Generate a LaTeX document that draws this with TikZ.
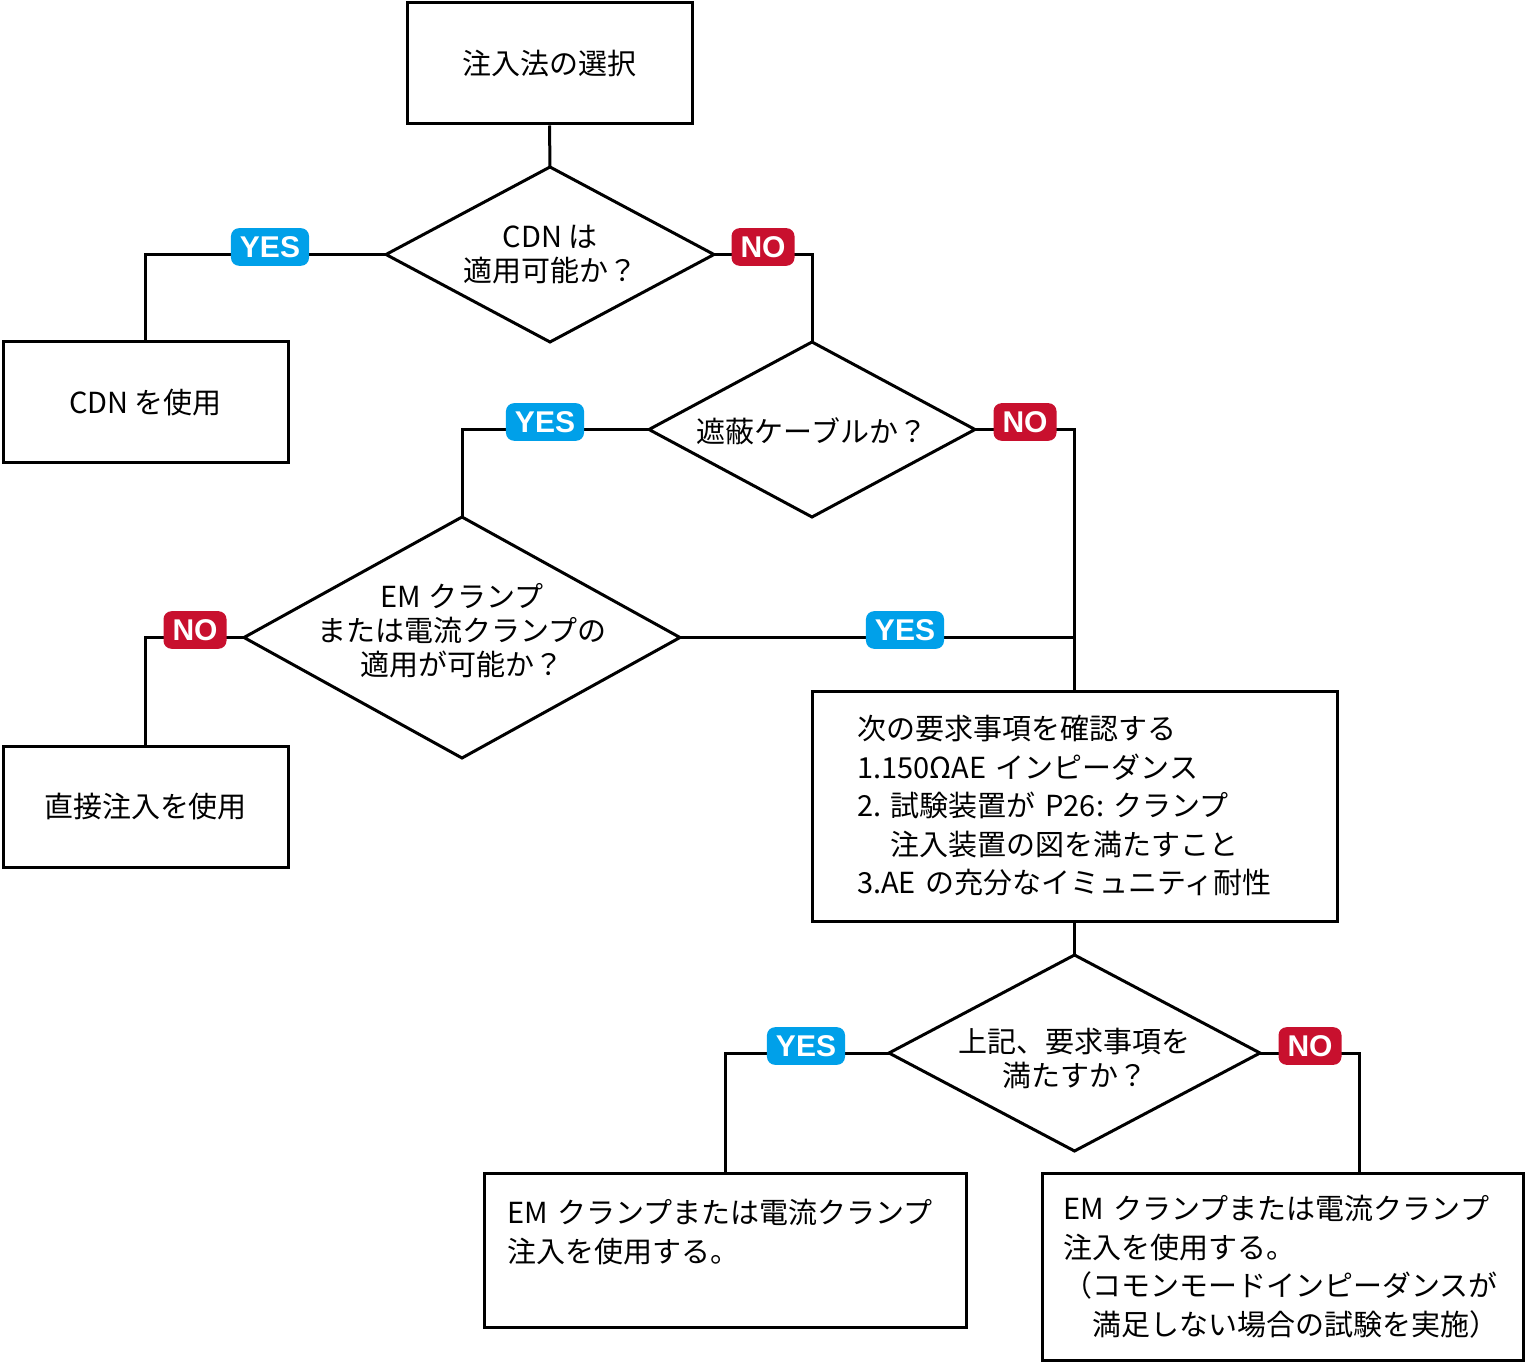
\documentclass[tikz,border=0pt]{standalone}
\usepackage{fontspec}
\setmainfont{Noto Sans CJK JP}
\newfontfamily\labfont{Liberation Sans}
\definecolor{yesblue}{HTML}{00A0E9}
\definecolor{nored}{HTML}{C8102E}
\frenchspacing
\begin{document}
\begin{tikzpicture}[x=0.5pt,y=-0.5pt,
  line/.style={line width=1.5pt,black},
  box/.style={draw,line width=1.5pt,rectangle,inner sep=0pt,align=left,font=\frenchspacing\fontsize{14.5pt}{19.25pt}\selectfont},
  dia/.style={rectangle,inner sep=0pt,outer sep=0pt},
  diatext/.style={inner sep=0pt,align=center,font=\fontsize{14.5pt}{17pt}\selectfont},
  tag/.style={rounded corners=4pt,inner xsep=4.5pt,inner ysep=4pt,text height=10.8pt,text depth=0pt,text=white,font=\labfont\bfseries\fontsize{15pt}{15pt}\selectfont},
  yes/.style={tag,fill=yesblue},
  no/.style={tag,fill=nored}]
\useasboundingbox (0,0) rectangle (1526,1363);

% boxes
\node[box,minimum width=142.5pt,minimum height=60.5pt] (b1) at (549.5,63.5) {注入法の選択};
\node[box,minimum width=142.5pt,minimum height=60.5pt] (bcdn) at (145.5,402.5) {CDN を使用};
\node[box,minimum width=142.5pt,minimum height=60.5pt] (bdir) at (145.5,806.5) {直接注入を使用};
\node[box,inner xsep=22.5pt,text width=217.5pt,minimum height=115pt] (b4) at (1074.5,806) {次の要求事項を確認する\\1.150ΩAE インピーダンス\\2. 試験装置が P26: クランプ\\\hphantom{2. }注入装置の図を満たすこと\\3.AE の充分なイミュニティ耐性};
\node[box,inner xsep=11.5pt,text width=218pt,minimum height=77pt] (b5) at (725,1250) {EM クランプまたは電流クランプ\\注入を使用する。\\\mbox{}};
\node[box,inner xsep=10.75pt,text width=219pt,minimum height=93.5pt] (b6) at (1282.5,1266.5) {EM クランプまたは電流クランプ\\注入を使用する。\\（コモンモードインピーダンスが\\\hphantom{（}満足しない場合の試験を実施）};

% diamonds
\node[dia,minimum width=164pt,minimum height=87.5pt] (d1) at (550,254.5) {};
\node[dia,minimum width=163pt,minimum height=87.5pt] (d2) at (812,429.5) {};
\node[dia,minimum width=218pt,minimum height=120.5pt] (d3) at (462,637.5) {};
\node[dia,minimum width=185.5pt,minimum height=98pt] (d4) at (1074.5,1053) {};
\foreach \d in {d1,d2,d3,d4}
  \draw[line,line join=miter] (\d.north) -- (\d.east) -- (\d.south) -- (\d.west) -- cycle;
\node[diatext] (d1t) at (d1.center) {CDN は\\適用可能か？};
\node[diatext] (d2t) at ([yshift=-1pt]d2.center) {遮蔽ケーブルか？};
\node[diatext] (d3t) at ([yshift=3.25pt]d3.center) {EM クランプ\\または電流クランプの\\適用が可能か？};
\node[diatext] (d4t) at ([yshift=-2.5pt]d4.center) {上記、要求事項を\\満たすか？};

% connectors
\coordinate (j) at (b4.north |- d3.east);
\coordinate (c6) at (1359,1173);
\draw[line] (b1.south) -- (d1.north);
\draw[line] (d1.west) -| (bcdn.north);
\draw[line] (d1.east) -| (d2.north);
\draw[line] (d2.west) -| (d3.north);
\draw[line] (d2.east) -| (b4.north);
\draw[line] (d3.west) -| (bdir.north);
\draw[line] (d3.east) -- (j);
\draw[line] (b4.south) -- (d4.north);
\draw[line] (d4.west) -| (b5.north);
\draw[line] (d4.east) -| (c6);

% labels
\node[yes] (y1) at (270,247) {YES};
\node[no] (n1) at (763,247) {NO};
\node[yes] (y2) at (545,422) {YES};
\node[no] (n2) at (1025,422) {NO};
\node[no] (n3) at (195,630) {NO};
\node[yes] (y3) at (905,630) {YES};
\node[yes] (y4) at (806,1046) {YES};
\node[no] (n4) at (1310,1046) {NO};
\end{tikzpicture}
\end{document}
